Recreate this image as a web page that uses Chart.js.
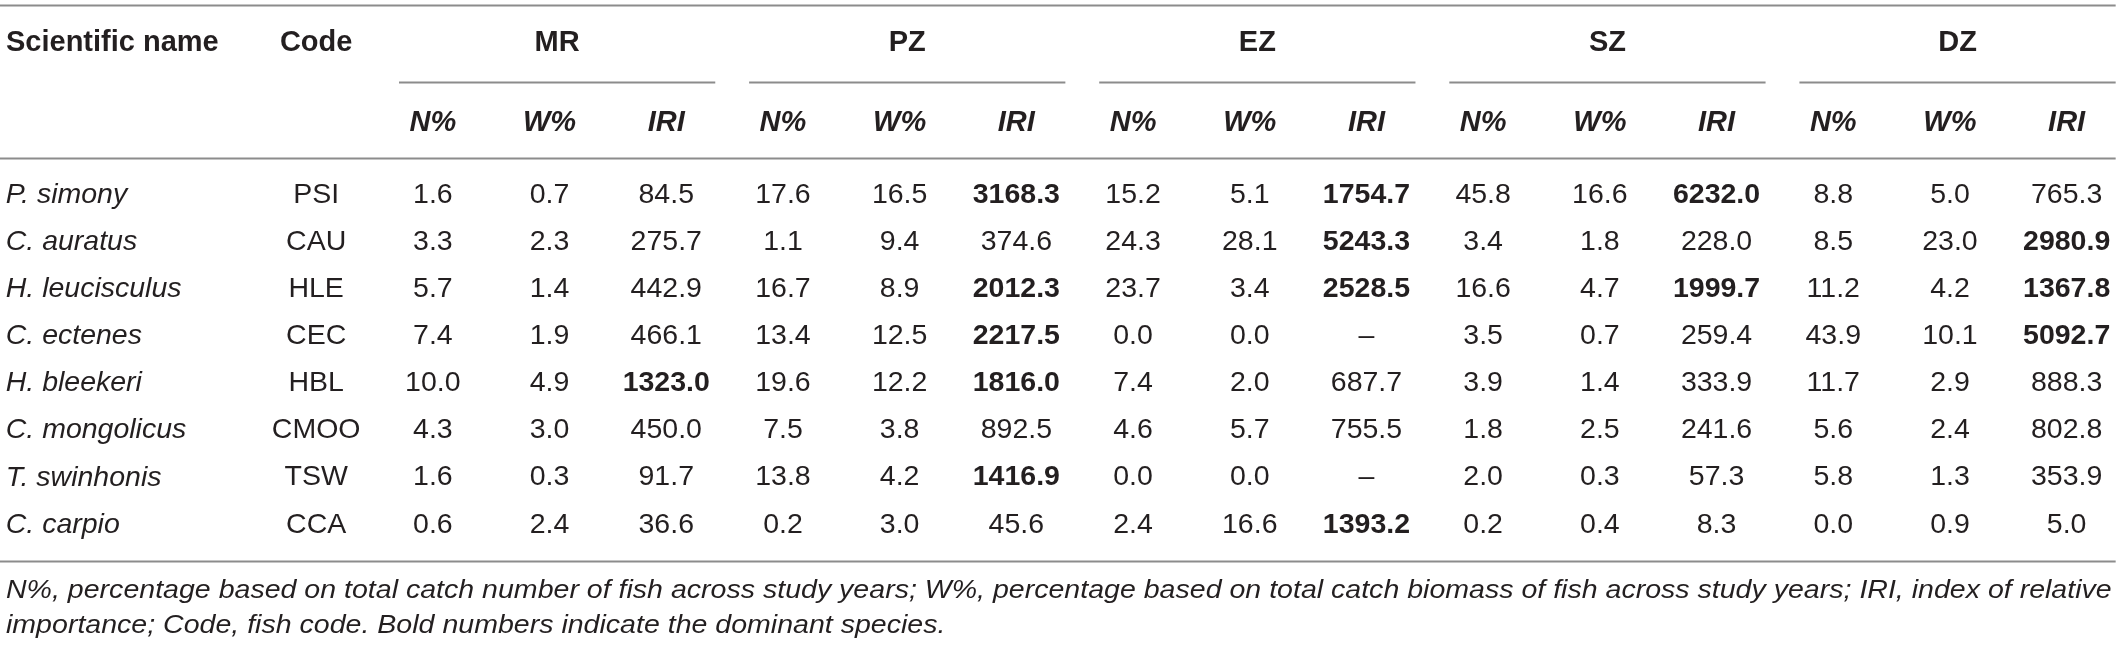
<!DOCTYPE html>
<html>
<head>
<meta charset="utf-8">
<script src="https://cdn.jsdelivr.net/npm/chart.js@4/dist/chart.umd.min.js"></script>
<style>
  html, body { margin: 0; padding: 0; background: #fff; }
  #wrap { width: 2118px; height: 647px; position: relative; }
</style>
</head>
<body>
<div id="wrap"><canvas id="table-chart"></canvas></div>
<script>
// Table values
const species = ['P. simony', 'C. auratus', 'H. leucisculus', 'C. ectenes', 'H. bleekeri', 'C. mongolicus', 'T. swinhonis', 'C. carpio'];
const codes = ['PSI', 'CAU', 'HLE', 'CEC', 'HBL', 'CMOO', 'TSW', 'CCA'];
const zones = ['MR', 'PZ', 'EZ', 'SZ', 'DZ'];
const metrics = ['N%', 'W%', 'IRI'];

const mrN = [1.6, 3.3, 5.7, 7.4, 10.0, 4.3, 1.6, 0.6];
const mrW = [0.7, 2.3, 1.4, 1.9, 4.9, 3.0, 0.3, 2.4];
const mrIRI = [84.5, 275.7, 442.9, 466.1, 1323.0, 450.0, 91.7, 36.6];
const pzN = [17.6, 1.1, 16.7, 13.4, 19.6, 7.5, 13.8, 0.2];
const pzW = [16.5, 9.4, 8.9, 12.5, 12.2, 3.8, 4.2, 3.0];
const pzIRI = [3168.3, 374.6, 2012.3, 2217.5, 1816.0, 892.5, 1416.9, 45.6];
const ezN = [15.2, 24.3, 23.7, 0.0, 7.4, 4.6, 0.0, 2.4];
const ezW = [5.1, 28.1, 3.4, 0.0, 2.0, 5.7, 0.0, 16.6];
const ezIRI = [1754.7, 5243.3, 2528.5, null, 687.7, 755.5, null, 1393.2];
const szN = [45.8, 3.4, 16.6, 3.5, 3.9, 1.8, 2.0, 0.2];
const szW = [16.6, 1.8, 4.7, 0.7, 1.4, 2.5, 0.3, 0.4];
const szIRI = [6232.0, 228.0, 1999.7, 259.4, 333.9, 241.6, 57.3, 8.3];
const dzN = [8.8, 8.5, 11.2, 43.9, 11.7, 5.6, 5.8, 0.0];
const dzW = [5.0, 23.0, 4.2, 10.1, 2.9, 2.4, 1.3, 0.9];
const dzIRI = [765.3, 2980.9, 1367.8, 5092.7, 888.3, 802.8, 353.9, 5.0];

const footnote = [
  'N%, percentage based on total catch number of fish across study years; W%, percentage based on total catch biomass of fish across study years; IRI, index of relative',
  'importance; Code, fish code. Bold numbers indicate the dominant species.'
];

const zoneColumns = [
  [mrN, mrW, mrIRI],
  [pzN, pzW, pzIRI],
  [ezN, ezW, ezIRI],
  [szN, szW, szIRI],
  [dzN, dzW, dzIRI],
];

// IRI above 1000 marks a dominant species (bold)
const DOMINANT = 1000;

// layout (scale units: x = column, y = row)
const TEXT = '#231f20';
const RULE = '#8c8c8c';
const BODY_FONT = '"Liberation Sans", Arial, sans-serif';
const rowsY = { top: -4.03, head: -3.23, group: -2.40, sub: -1.53, headRule: -0.79, bottom: 7.77, foot1: 8.41, foot2: 9.15 };

function fmt(v) {
  return v === null ? '\u2013' : v.toFixed(1);
}

const datasets = [];
// scientific names, left column
datasets.push({ data: species.map((s, i) => ({ x: -3.66, y: i })), cellText: species, kind: 'name' });
// codes
datasets.push({ data: codes.map((c, i) => ({ x: -1, y: i })), cellText: codes, kind: 'code' });
zoneColumns.forEach((cols, g) => {
  cols.forEach((vals, m) => {
    const col = g * 3 + m;
    datasets.push({
      data: vals.map((v, i) => ({ x: col, y: i })),
      cellText: vals.map(fmt),
      cellBold: vals.map(v => m === 2 && v !== null && v > DOMINANT),
      kind: 'num'
    });
  });
});

const tablePlugin = {
  id: 'tableText',
  afterDatasetsDraw(chart) {
    const ctx = chart.ctx;
    const x = chart.scales.x;
    const y = chart.scales.y;
    const left = chart.chartArea.left;
    const right = x.getPixelForValue(14.42);

    ctx.save();
    // horizontal rules
    ctx.strokeStyle = RULE;
    ctx.lineWidth = 2;
    [rowsY.top, rowsY.headRule, rowsY.bottom].forEach(r => {
      const py = Math.round(y.getPixelForValue(r)) + 0.5;
      ctx.beginPath();
      ctx.moveTo(left, py);
      ctx.lineTo(right, py);
      ctx.stroke();
    });

    ctx.fillStyle = TEXT;
    ctx.textBaseline = 'middle';

    // column headers
    const headY = y.getPixelForValue(rowsY.head);
    ctx.font = 'bold 29px ' + BODY_FONT;
    ctx.textAlign = 'left';
    ctx.fillText('Scientific name', left + 6, headY);
    ctx.textAlign = 'center';
    ctx.fillText('Code', x.getPixelForValue(-1), headY);

    zones.forEach((z, g) => {
      const x0 = x.getPixelForValue(g * 3 - 0.29);
      const x1 = x.getPixelForValue(g * 3 + 2.42);
      ctx.font = 'bold 29px ' + BODY_FONT;
      ctx.textAlign = 'center';
      ctx.fillText(z, (x0 + x1) / 2, headY);
      const gy = Math.round(y.getPixelForValue(rowsY.group)) + 0.5;
      ctx.beginPath();
      ctx.moveTo(x0, gy);
      ctx.lineTo(x1, gy);
      ctx.stroke();
      ctx.font = 'italic bold 29px ' + BODY_FONT;
      metrics.forEach((m, k) => {
        ctx.fillText(m, x.getPixelForValue(g * 3 + k), y.getPixelForValue(rowsY.sub));
      });
    });

    // body cells
    chart.data.datasets.forEach((ds, di) => {
      const meta = chart.getDatasetMeta(di);
      meta.data.forEach((el, i) => {
        if (ds.kind === 'name') {
          ctx.font = 'italic 28.5px ' + BODY_FONT;
          ctx.textAlign = 'left';
        } else {
          ctx.font = (ds.cellBold && ds.cellBold[i] ? 'bold ' : '') + '28.5px ' + BODY_FONT;
          ctx.textAlign = 'center';
        }
        ctx.fillText(ds.cellText[i], el.x, el.y);
      });
    });

    // footnote, first line spans the table width
    ctx.font = 'italic 25px ' + BODY_FONT;
    ctx.textAlign = 'left';
    const w1 = ctx.measureText(footnote[0]).width;
    const sx = (right - 4 - (left + 6)) / w1;
    [rowsY.foot1, rowsY.foot2].forEach((r, k) => {
      ctx.save();
      ctx.translate(left + 6, y.getPixelForValue(r));
      ctx.scale(sx, 1);
      ctx.fillText(footnote[k], 0, 0);
      ctx.restore();
    });
    ctx.restore();
  }
};

new Chart(document.getElementById('table-chart'), {
  type: 'scatter',
  data: { datasets: datasets.map(d => Object.assign({ pointRadius: 0, pointHoverRadius: 0 }, d)) },
  options: {
    responsive: true,
    maintainAspectRatio: false,
    animation: false,
    events: [],
    layout: { padding: 0 },
    plugins: { legend: { display: false }, tooltip: { enabled: false } },
    scales: {
      x: { type: 'linear', display: false, min: -3.709, max: 14.44 },
      y: { type: 'linear', display: false, reverse: true, min: -4.14, max: 9.597 }
    }
  },
  plugins: [tablePlugin]
});
</script>
</body>
</html>
